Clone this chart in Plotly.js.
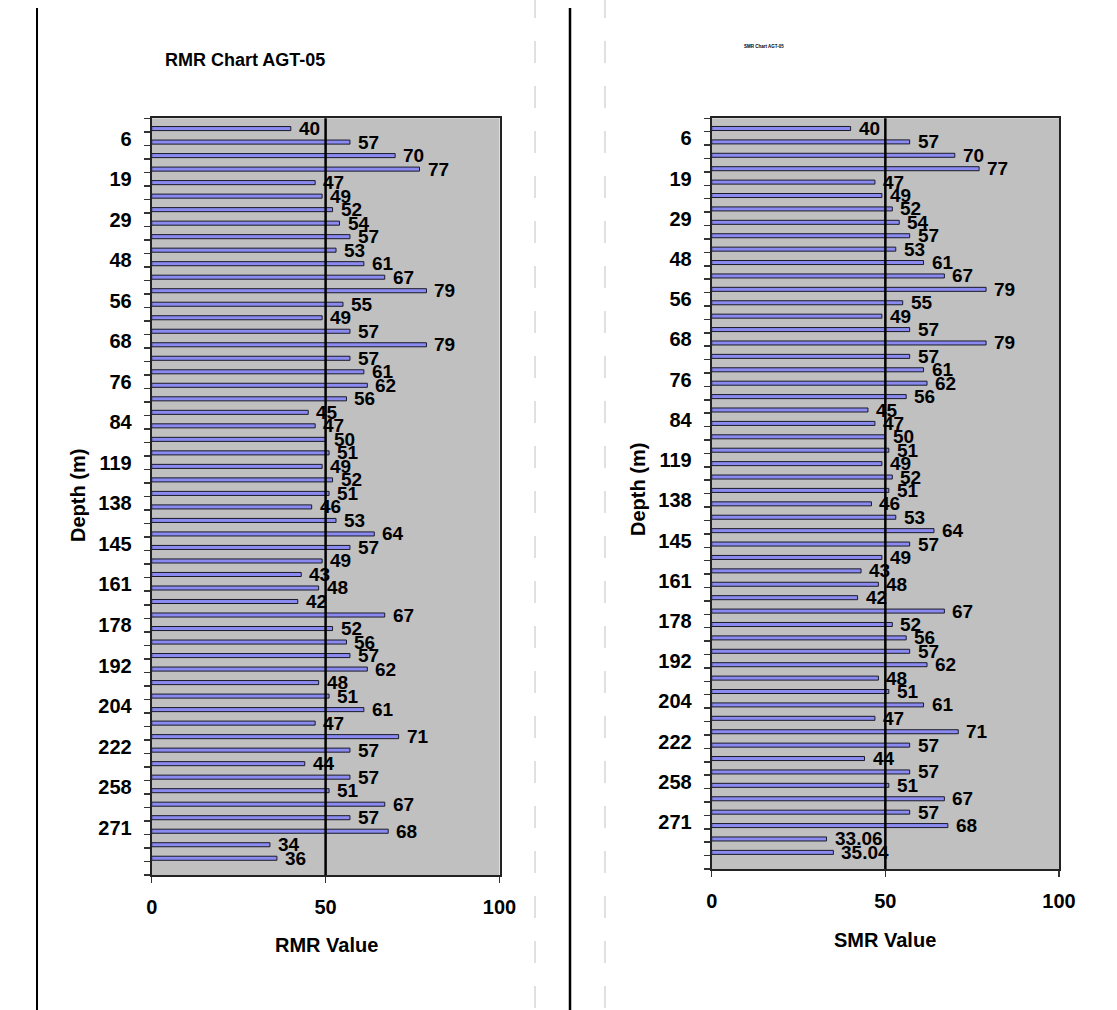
<!DOCTYPE html>
<html>
<head>
<meta charset="utf-8">
<script src="https://cdn.plot.ly/plotly-3.0.1.min.js"></script>
<style>html,body{margin:0;padding:0;background:#fff;}#chart{width:1117px;height:1010px;}</style>
</head>
<body>
<div id="chart"></div>
<script>
// ---- data ----
const depthLabels = [6, 19, 29, 48, 56, 68, 76, 84, 119, 138, 145, 161, 178, 192, 204, 222, 258, 271];
const rmrValues = [40, 57, 70, 77, 47, 49, 52, 54, 57, 53, 61, 67, 79, 55, 49, 57, 79, 57, 61, 62, 56,
  45, 47, 50, 51, 49, 52, 51, 46, 53, 64, 57, 49, 43, 48, 42, 67, 52, 56, 57, 62, 48, 51, 61, 47,
  71, 57, 44, 57, 51, 67, 57, 68, 34, 36];
const smrValues = [40, 57, 70, 77, 47, 49, 52, 54, 57, 53, 61, 67, 79, 55, 49, 57, 79, 57, 61, 62, 56,
  45, 47, 50, 51, 49, 52, 51, 46, 53, 64, 57, 49, 43, 48, 42, 67, 52, 56, 57, 62, 48, 51, 61, 47,
  71, 57, 44, 57, 51, 67, 57, 68, 33.06, 35.04];
const xTicks = [0, 50, 100];
const titles = {left: 'RMR Chart AGT-05', right: 'SMR Chart AGT-05'};

// ---- build ----
const W = 1117, H = 1010;
const px = v => v / W;
const py = v => 1 - v / H;
const FONT = '"Liberation Sans", Arial, sans-serif';
const n = rmrValues.length;
const nCat = n + 1;               // one empty category slot at the bottom, as in the source chart
const cats = rmrValues.map((_, i) => i);
const labelIdx = depthLabels.map((_, k) => 1 + 3 * k);
const BAR_SHIFT = 0.26, BAR_W = 0.3;

function barTrace(vals, xa, ya) {
  return {
    type: 'bar', orientation: 'h', x: vals, y: cats, xaxis: xa, yaxis: ya,
    width: BAR_W, offset: BAR_SHIFT - BAR_W / 2,
    marker: {color: '#8a8af0', line: {color: '#1a1a2a', width: 1}},
    hoverinfo: 'x'
  };
}

function yAxis(domain) {
  return {
    domain: domain, range: [nCat - 0.5, -0.5], showgrid: false, zeroline: false,
    tickmode: 'array', tickvals: labelIdx, ticktext: depthLabels.map(String),
    ticks: '', ticklabelstandoff: 14,
    tickfont: {family: FONT, size: 20, weight: 'bold', color: '#000'},
    minor: {tickmode: 'array', tickvals: Array.from({length: nCat + 1}, (_, i) => i - 0.5),
      ticks: 'outside', ticklen: 6, tickcolor: '#333', tickwidth: 1.5, showgrid: false},
    showline: true, linecolor: '#222', linewidth: 2, mirror: true
  };
}
function xAxis(domain) {
  return {
    domain: domain, range: [0, 100], showgrid: false, zeroline: false,
    tickmode: 'array', tickvals: xTicks, ticktext: xTicks.map(String),
    ticks: 'outside', ticklen: 6, tickcolor: '#333', tickwidth: 1.5, ticklabelstandoff: 7,
    tickfont: {family: FONT, size: 20, weight: 'bold', color: '#000'},
    showline: true, linecolor: '#222', linewidth: 2, mirror: true
  };
}

function valueAnnots(vals, xr, yr) {
  return vals.map((v, i) => ({
    x: v, y: i + BAR_SHIFT, xref: xr, yref: yr, text: String(v), showarrow: false,
    xanchor: 'left', yanchor: 'middle', xshift: 6,
    font: {family: FONT, size: 19, weight: 'bold', color: '#000'}
  }));
}
function textAnnot(text, x, y, size, angle) {
  return {x: px(x), y: py(y), xref: 'paper', yref: 'paper', text: text, showarrow: false,
    xanchor: 'center', yanchor: 'middle', textangle: angle || 0,
    font: {family: FONT, size: size, weight: 'bold', color: '#000'}};
}

const annotations = []
  .concat(valueAnnots(rmrValues, 'x', 'y'))
  .concat(valueAnnots(smrValues, 'x2', 'y2'))
  .concat([
    textAnnot(titles.left, 245, 60, 18),
    textAnnot(titles.right, 764, 46, 4.5),
    textAnnot('Depth (m)', 78, 496, 20, -90),
    textAnnot('Depth (m)', 638, 490, 20, -90),
    textAnnot('RMR Value', 326, 945, 20),
    textAnnot('SMR Value', 885, 940, 20)
  ]);

const shapes = [
  {type: 'line', xref: 'x', yref: 'y domain', x0: 50, x1: 50, y0: 0, y1: 1, line: {color: '#000', width: 2.5}},
  {type: 'line', xref: 'x2', yref: 'y2 domain', x0: 50, x1: 50, y0: 0, y1: 1, line: {color: '#000', width: 2.5}},
  {type: 'line', xref: 'paper', yref: 'paper', x0: px(37), x1: px(37), y0: py(8), y1: py(1012), line: {color: '#000', width: 2}},
  {type: 'line', xref: 'paper', yref: 'paper', x0: px(570), x1: px(570), y0: py(8), y1: py(1012), line: {color: '#000', width: 2.5}},
  {type: 'line', xref: 'paper', yref: 'paper', x0: px(535), x1: px(535), y0: py(-4), y1: py(1012), line: {color: '#d6d6d6', width: 1.5, dash: '22px,23px'}},
  {type: 'line', xref: 'paper', yref: 'paper', x0: px(605), x1: px(605), y0: py(-4), y1: py(1012), line: {color: '#d6d6d6', width: 1.5, dash: '22px,23px'}}
];

const layout = {
  width: W, height: H, margin: {l: 0, r: 0, t: 0, b: 0},
  paper_bgcolor: '#fff', plot_bgcolor: '#c0c0c0', showlegend: false,
  bargap: 0,
  xaxis: Object.assign(xAxis([px(151.7), px(499.5)]), {anchor: 'y'}),
  yaxis: Object.assign(yAxis([py(875), py(118.3)]), {anchor: 'x'}),
  xaxis2: Object.assign(xAxis([px(711.7), px(1059)]), {anchor: 'y2'}),
  yaxis2: Object.assign(yAxis([py(869), py(118.3)]), {anchor: 'x2'}),
  annotations: annotations,
  shapes: shapes
};

Plotly.newPlot('chart', [barTrace(rmrValues, 'x', 'y'), barTrace(smrValues, 'x2', 'y2')], layout,
  {displayModeBar: false, staticPlot: true});
</script>
</body>
</html>
